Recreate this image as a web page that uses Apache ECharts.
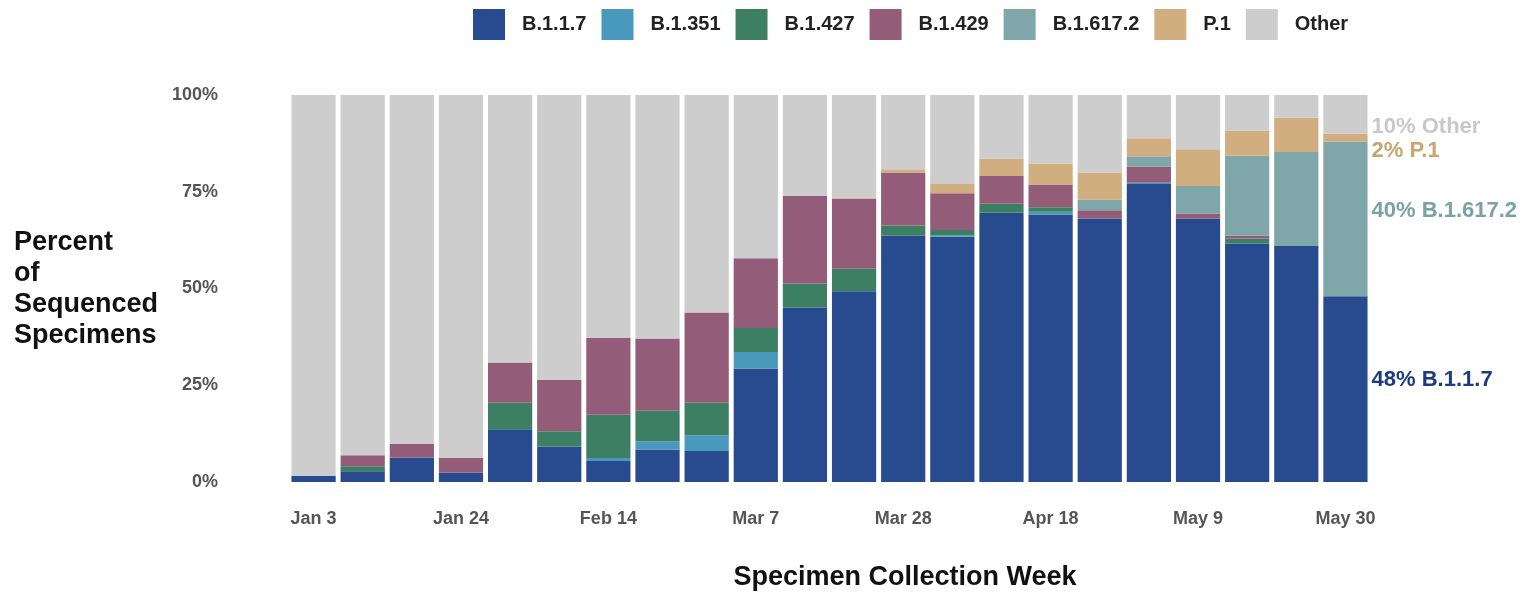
<!DOCTYPE html>
<html>
<head>
<meta charset="utf-8">
<script src="https://cdn.jsdelivr.net/npm/echarts@6/dist/echarts.min.js"></script>
<style>
html,body{margin:0;padding:0;background:#fff;}
#chart{width:1526px;height:596px;}
</style>
</head>
<body>
<div id="chart"></div>
<script>
var weeks = ['Jan 3','Jan 10','Jan 17','Jan 24','Jan 31','Feb 7','Feb 14','Feb 21','Feb 28','Mar 7','Mar 14','Mar 21','Mar 28','Apr 4','Apr 11','Apr 18','Apr 25','May 2','May 9','May 16','May 23','May 30'];
var seriesNames = ['B.1.1.7','B.1.351','B.1.427','B.1.429','B.1.617.2','P.1','Other'];
var b117   = [1.6,2.8,6.3,2.4,13.6,9.2,5.4,8.4,8.0,29.3,45.1,49.3,63.6,63.4,69.6,69.1,68.1,77.0,68.1,61.6,61.0,48];
var b1351  = [0,0,0,0,0,0,0.8,2.1,4.1,4.3,0,0,0,0.3,0,0.7,0,0.3,0,0,0,0];
var b1427  = [0,1.3,0,0,6.9,3.9,11.2,7.9,8.4,6.2,6.2,5.8,2.7,1.4,2.3,1.2,0,0,0,1.3,0,0];
var b1429  = [0,2.8,3.6,3.8,10.4,13.3,19.8,18.7,23.3,18.0,22.6,18.1,13.7,9.5,7.2,5.9,2.1,4.2,1.3,0.7,0,0];
var b16172 = [0,0,0,0,0,0,0,0,0,0,0,0,0,0,0,0,2.8,2.7,7.1,20.7,24.3,40];
var p1     = [0,0,0,0,0,0,0,0,0,0,0,0.3,0.8,2.4,4.4,5.4,7.0,4.6,9.5,6.5,8.8,2];
var other  = [98.4,93.1,90.1,93.8,69.1,73.6,62.8,62.9,56.2,42.2,26.1,26.5,19.2,23.0,16.5,17.7,20.0,11.2,14.0,9.2,5.9,10];
var yTicks = [0,25,50,75,100];
var endLabels = ['48% B.1.1.7', null, null, null, '40% B.1.617.2', '2% P.1', '10% Other'];

var colors = ['#284a8e','#4899bc','#3d7f62','#935c79','#7fa6a8','#d1ae7f','#cdcdcd'];
var labelColors = ['#1d3b80',null,null,null,'#78a2a3','#c9a46e','#c8c8c8'];
var labelOffsets = [[0,-9],null,null,null,[0,-8],[0,13],[0,13]];
var dataSets = [b117,b1351,b1427,b1429,b16172,p1,other];
var FONT = '"Liberation Sans", Arial, sans-serif';

var series = seriesNames.map(function(name, si){
  var arr = dataSets[si];
  return {
    name: name,
    type: 'bar',
    stack: 'total',
    barCategoryGap: '10%',
    itemStyle: {color: colors[si]},
    emphasis: {disabled: true},
    data: arr.map(function(v, i){
      if (i === arr.length - 1 && endLabels[si]) {
        return {
          value: v,
          label: {
            show: true,
            position: 'right',
            distance: 4,
            offset: labelOffsets[si],
            formatter: endLabels[si],
            color: labelColors[si],
            fontFamily: FONT,
            fontWeight: 'bold',
            fontSize: 22
          }
        };
      }
      return v;
    })
  };
});

var chart = echarts.init(document.getElementById('chart'));
chart.setOption({
  animation: false,
  color: colors,
  legend: {
    left: 468,
    top: 4,
    icon: 'rect',
    itemWidth: 32,
    itemHeight: 31,
    itemGap: 15,
    data: seriesNames,
    textStyle: {fontFamily: FONT, fontWeight: 'bold', fontSize: 20, color: '#222', padding: [0,0,0,12]}
  },
  grid: {left: 289, width: 1081, top: 95, height: 387},
  xAxis: {
    type: 'category',
    data: weeks,
    axisLine: {show: false},
    axisTick: {show: false},
    axisLabel: {interval: 2, margin: 28, fontFamily: FONT, fontWeight: 'bold', fontSize: 18, color: '#555'}
  },
  yAxis: {
    type: 'value',
    min: yTicks[0],
    max: yTicks[yTicks.length-1],
    interval: 25,
    splitLine: {show: false},
    axisLine: {show: false},
    axisTick: {show: false},
    axisLabel: {margin: 71, formatter: '{value}%', fontFamily: FONT, fontWeight: 'bold', fontSize: 18, color: '#555'}
  },
  graphic: [
    {
      type: 'text',
      left: 14,
      top: 227,
      style: {
        text: 'Percent\nof\nSequenced\nSpecimens',
        font: 'bold 27px ' + FONT,
        lineHeight: 31,
        fill: '#111',
        align: 'left'
      }
    },
    {
      type: 'text',
      x: 905,
      y: 578,
      style: {
        text: 'Specimen Collection Week',
        font: 'bold 27px ' + FONT,
        fill: '#111',
        align: 'center',
        verticalAlign: 'middle'
      }
    }
  ],
  series: series
});
</script>
</body>
</html>
